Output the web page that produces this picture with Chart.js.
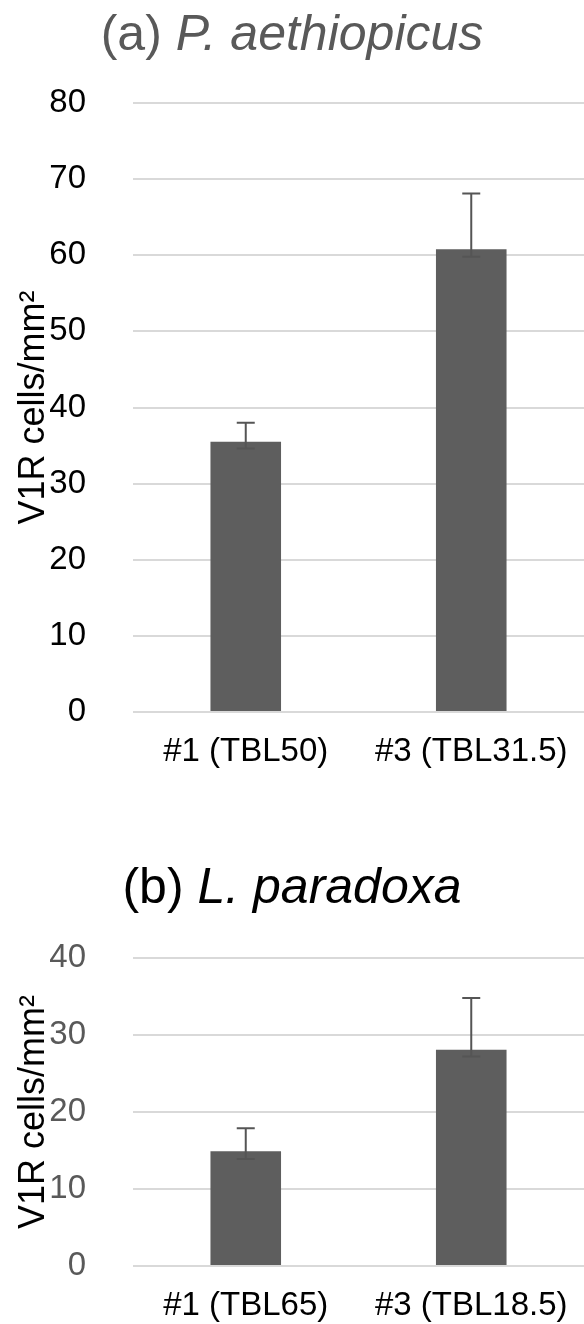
<!DOCTYPE html>
<html>
<head>
<meta charset="utf-8">
<script src="https://cdn.jsdelivr.net/npm/chart.js"></script>
<style>
  body { margin: 0; background: #fff; }
  #page { position: relative; width: 584px; height: 1324px; overflow: hidden; }
  .naslov {
    position: absolute; left: 0; width: 584px; text-align: center;
    font-family: "Liberation Sans", Arial, sans-serif; font-size: 50px;
  }
  .naslov i { font-style: italic; }
  canvas { position: absolute; left: 0; }
</style>
</head>
<body>
<div id="page">
  <div class="naslov" id="naslov-a" style="top: 4px; color: #595959;">(a) <i>P. aethiopicus</i></div>
  <canvas id="chart-a" width="584" height="730" style="top: 70px;"></canvas>
  <div class="naslov" id="naslov-b" style="top: 857px; color: #000;">(b) <i>L. paradoxa</i></div>
  <canvas id="chart-b" width="584" height="406" style="top: 918px;"></canvas>
</div>
<script>
// Podaci (a) P. aethiopicus
const labelsA = ['#1 (TBL50)', '#3 (TBL31.5)'];
const valuesA = [35.5, 60.8];
const plusA = [2.5, 7.3];
const minusA = [0.9, 1.0];
const maxA = 80;

// Podaci (b) L. paradoxa
const labelsB = ['#1 (TBL65)', '#3 (TBL18.5)'];
const valuesB = [14.9, 28.1];
const plusB = [3.0, 6.7];
const minusB = [1.0, 0.9];
const maxB = 40;

const yTitle = 'V1R cells/mm\u00B2';
const FONT = '"Liberation Sans", Arial, sans-serif';

// Error bars iznad stupaca
const errorBars = {
    id: 'errorBars',
    afterDatasetsDraw(chart, args, opts) {
        const ctx = chart.ctx;
        const y = chart.scales.y;
        const data = chart.data.datasets[0].data;
        ctx.save();
        ctx.strokeStyle = '#555555';
        ctx.lineWidth = 2;
        chart.getDatasetMeta(0).data.forEach((bar, i) => {
            const top = y.getPixelForValue(data[i] + opts.plus[i]);
            const bot = y.getPixelForValue(data[i] - opts.minus[i]);
            ctx.beginPath();
            ctx.moveTo(bar.x, top);
            ctx.lineTo(bar.x, bot);
            ctx.moveTo(bar.x - 9, top);
            ctx.lineTo(bar.x + 9, top);
            ctx.moveTo(bar.x - 9, bot);
            ctx.lineTo(bar.x + 9, bot);
            ctx.stroke();
        });
        ctx.restore();
    }
};

function napraviGraf(id, labels, values, plus, minus, max, tickColor, padding) {
    return new Chart(document.getElementById(id), {
        type: 'bar',
        data: {
            labels: labels,
            datasets: [{
                data: values,
                backgroundColor: '#5e5e5e',
                borderWidth: 0,
                barPercentage: 0.313,
                categoryPercentage: 1
            }]
        },
        options: {
            responsive: false,
            animation: false,
            layout: { padding: padding },
            plugins: {
                legend: { display: false },
                tooltip: { enabled: false },
                errorBars: { plus: plus, minus: minus }
            },
            scales: {
                x: {
                    grid: { display: false },
                    border: { display: false },
                    ticks: { color: '#000', padding: 12, font: { family: FONT, size: 33 } },
                    afterFit: (scale) => {
                        scale.height = 58;
                        scale.paddingLeft = 0;
                        scale.paddingRight = 0;
                    }
                },
                y: {
                    min: 0,
                    max: max,
                    ticks: { stepSize: 10, color: tickColor, padding: 47, font: { family: FONT, size: 33 } },
                    grid: { color: '#d9d9d9', lineWidth: 2, drawTicks: false },
                    border: { display: false },
                    title: {
                        display: true,
                        text: yTitle,
                        color: '#000',
                        font: { family: FONT, size: 36 },
                        padding: { top: 0, bottom: 4 }
                    },
                    afterFit: (scale) => {
                        scale.width = 121;
                        scale.paddingTop = 0;
                        scale.paddingBottom = 0;
                    }
                }
            }
        },
        plugins: [errorBars]
    });
}

napraviGraf('chart-a', labelsA, valuesA, plusA, minusA, maxA, '#000', { top: 33, bottom: 30, left: 12, right: 0 });
napraviGraf('chart-b', labelsB, valuesB, plusB, minusB, maxB, '#595959', { top: 40, bottom: 0, left: 12, right: 0 });
</script>
</body>
</html>
